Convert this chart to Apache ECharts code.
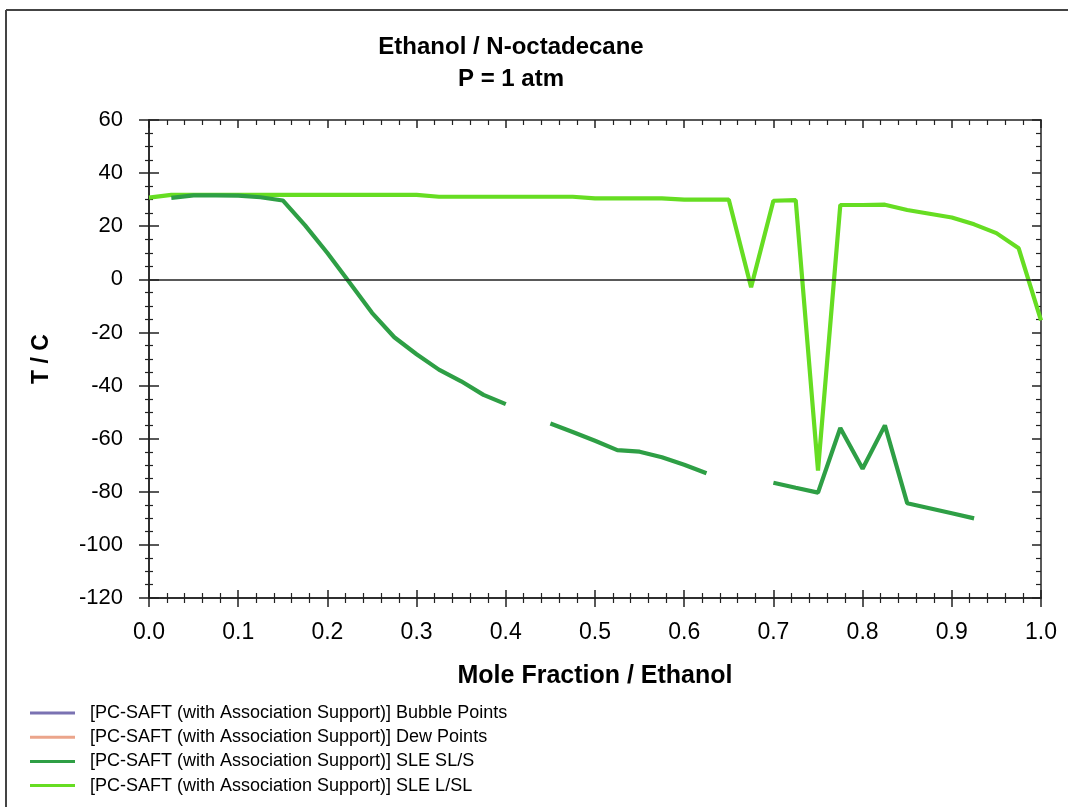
<!DOCTYPE html>
<html>
<head>
<meta charset="utf-8">
<script src="https://cdn.jsdelivr.net/npm/echarts@6/dist/echarts.min.js"></script>
<style>
html,body{margin:0;padding:0;background:#fff;}
#chart{width:1068px;height:807px;}
</style>
</head>
<body>
<div id="chart"></div>
<script>
// ---- data ----
var titleLines = ['Ethanol / N-octadecane', 'P = 1 atm'];
var xAxisName = 'Mole Fraction / Ethanol';
var yAxisName = 'T / C';
var seriesNames = [
  '[PC-SAFT (with Association Support)] Bubble Points',
  '[PC-SAFT (with Association Support)] Dew Points',
  '[PC-SAFT (with Association Support)] SLE SL/S',
  '[PC-SAFT (with Association Support)] SLE L/SL'
];
// SLE SL/S (null = gap in curve)
var slsX = [0.025,0.05,0.075,0.1,0.125,0.15,0.175,0.2,0.225,0.25,0.275,0.3,0.325,0.35,0.375,0.4,0.425,
            0.45,0.475,0.5,0.525,0.55,0.575,0.6,0.625,0.65,0.675,
            0.7,0.725,0.75,0.775,0.8,0.825,0.85,0.875,0.9,0.925];
var slsY = [30.7,31.6,31.6,31.5,30.9,29.7,20.3,9.9,-1.3,-12.6,-21.8,-28.2,-34.0,-38.4,-43.5,-47.0,null,
            -54.3,-57.5,-60.8,-64.3,-64.9,-67.0,-69.8,-73.0,null,null,
            -76.6,-78.5,-80.3,-56.0,-71.3,-55.0,-84.3,-86.2,-88.1,-90.0];
// SLE L/SL
var lslX = [0,0.025,0.05,0.075,0.1,0.125,0.15,0.175,0.2,0.225,0.25,0.275,0.3,0.325,0.35,0.375,0.4,0.425,0.45,0.475,
            0.5,0.525,0.55,0.575,0.6,0.625,0.65,0.675,0.7,0.725,0.75,0.775,0.8,0.825,0.85,0.875,0.9,0.925,0.95,0.975,1.0];
var lslY = [30.8,31.8,31.8,31.8,31.8,31.8,31.8,31.8,31.8,31.8,31.8,31.8,31.8,31.1,31.1,31.1,31.1,31.1,31.1,31.1,
            30.5,30.5,30.5,30.5,30.0,30.0,30.0,-3.0,29.6,29.8,-72.0,28.0,28.0,28.1,26.1,24.7,23.3,20.7,17.4,11.7,-15.5];
var bubbleX = [], bubbleY = [];
var dewX = [], dewY = [];
var xTicks = [0,0.1,0.2,0.3,0.4,0.5,0.6,0.7,0.8,0.9,1.0];
var yTicks = [-120,-100,-80,-60,-40,-20,0,20,40,60];

function pairs(xs, ys){
  return xs.map(function(x,i){ return [x, ys[i] == null ? '-' : ys[i]]; });
}

var FONT = '"Liberation Sans", Arial, sans-serif';
var AXC = '#222';
var xMin = xTicks[0], xMax = xTicks[xTicks.length-1], xInt = xTicks[1]-xTicks[0];
var yMin = yTicks[0], yMax = yTicks[yTicks.length-1], yInt = yTicks[1]-yTicks[0];

function xAx(opts){
  return Object.assign({
    type:'value', min:xMin, max:xMax, interval:xInt, position:'bottom',
    axisLine:{show:true, onZero:false, lineStyle:{color:AXC, width:1.5}},
    axisTick:{show:true, inside:false, length:9, lineStyle:{color:AXC, width:1.5}},
    minorTick:{show:true, splitNumber:5, length:5, lineStyle:{color:AXC, width:1.2}},
    axisLabel:{show:false}, splitLine:{show:false}, minorSplitLine:{show:false}
  }, opts);
}
function yAx(opts){
  return Object.assign({
    type:'value', min:yMin, max:yMax, interval:yInt, position:'left',
    axisLine:{show:true, onZero:false, lineStyle:{color:AXC, width:1.5}},
    axisTick:{show:true, inside:false, length:10, lineStyle:{color:AXC, width:1.5}},
    minorTick:{show:true, splitNumber:4, length:4, lineStyle:{color:AXC, width:1.2}},
    axisLabel:{show:false}, splitLine:{show:false}, minorSplitLine:{show:false}
  }, opts);
}

var chart = echarts.init(document.getElementById('chart'), null, {renderer:'canvas'});
var option = {
  animation:false,
  backgroundColor:'#fff',
  textStyle:{fontFamily:FONT},
  title:{
    text: titleLines.join('\n'),
    left:511, top:31, textAlign:'center', padding:0,
    textStyle:{fontFamily:FONT, fontSize:24, fontWeight:'bold', color:'#000', lineHeight:32}
  },
  grid:{left:149, right:27, top:120, bottom:209, containLabel:false},
  legend:{
    orient:'vertical', left:30, top:704, padding:0,
    itemWidth:45, itemHeight:16, itemGap:6.2,
    icon:'path://M0,0 L45,0 L45,3 L0,3 Z',
    textStyle:{fontFamily:FONT, fontSize:18, color:'#000', padding:[0,0,0,10]},
    data: seriesNames
  },
  xAxis:[
    xAx({
      name:xAxisName, nameLocation:'middle', nameGap:66,
      nameTextStyle:{fontFamily:FONT, fontSize:25, fontWeight:'bold', color:'#000'},
      axisLabel:{show:true, margin:23, fontSize:23, color:'#000', fontFamily:FONT,
        formatter:function(v){ return v.toFixed(1); }}
    }),
    xAx({axisTick:{show:true, inside:true, length:8, lineStyle:{color:AXC, width:1.5}}}),
    xAx({position:'top', axisTick:{show:true, inside:true, length:8, lineStyle:{color:AXC, width:1.5}}})
  ],
  yAxis:[
    yAx({
      name:yAxisName, nameLocation:'middle', nameGap:96, nameRotate:90,
      nameTextStyle:{fontFamily:FONT, fontSize:23, fontWeight:'bold', color:'#000'},
      axisLabel:{show:true, margin:26, fontSize:22, color:'#000', fontFamily:FONT}
    }),
    yAx({axisTick:{show:true, inside:true, length:10, lineStyle:{color:AXC, width:1.5}}}),
    yAx({position:'right', axisTick:{show:true, inside:true, length:9, lineStyle:{color:AXC, width:1.5}},
         minorTick:{show:true, splitNumber:4, length:5, lineStyle:{color:AXC, width:1.2}}})
  ],
  graphic:[
    {type:'line', shape:{x1:6, y1:10, x2:1068, y2:10}, style:{stroke:'#444', lineWidth:2}, silent:true},
    {type:'line', shape:{x1:6, y1:10, x2:6, y2:807}, style:{stroke:'#444', lineWidth:2}, silent:true}
  ],
  series:[
    {name:seriesNames[0], type:'line', data:pairs(bubbleX,bubbleY), showSymbol:false, symbol:'none',
     color:'#7a72b2', lineStyle:{width:4, color:'#7a72b2'}},
    {name:seriesNames[1], type:'line', data:pairs(dewX,dewY), showSymbol:false, symbol:'none',
     color:'#eba58b', lineStyle:{width:4, color:'#eba58b'}},
    {name:seriesNames[2], type:'line', data:pairs(slsX,slsY), showSymbol:false, symbol:'none',
     connectNulls:false, color:'#2e9f45', lineStyle:{width:4.2, color:'#2e9f45'}, z:3,
     markLine:{silent:true, symbol:'none', label:{show:false},
       lineStyle:{color:'#222', width:1.5, type:'solid'}, data:[{yAxis:0}]}},
    {name:seriesNames[3], type:'line', data:pairs(lslX,lslY), showSymbol:false, symbol:'none',
     color:'#66dd22', lineStyle:{width:4.2, color:'#66dd22'}, z:2}
  ]
};
chart.setOption(option);
</script>
</body>
</html>
